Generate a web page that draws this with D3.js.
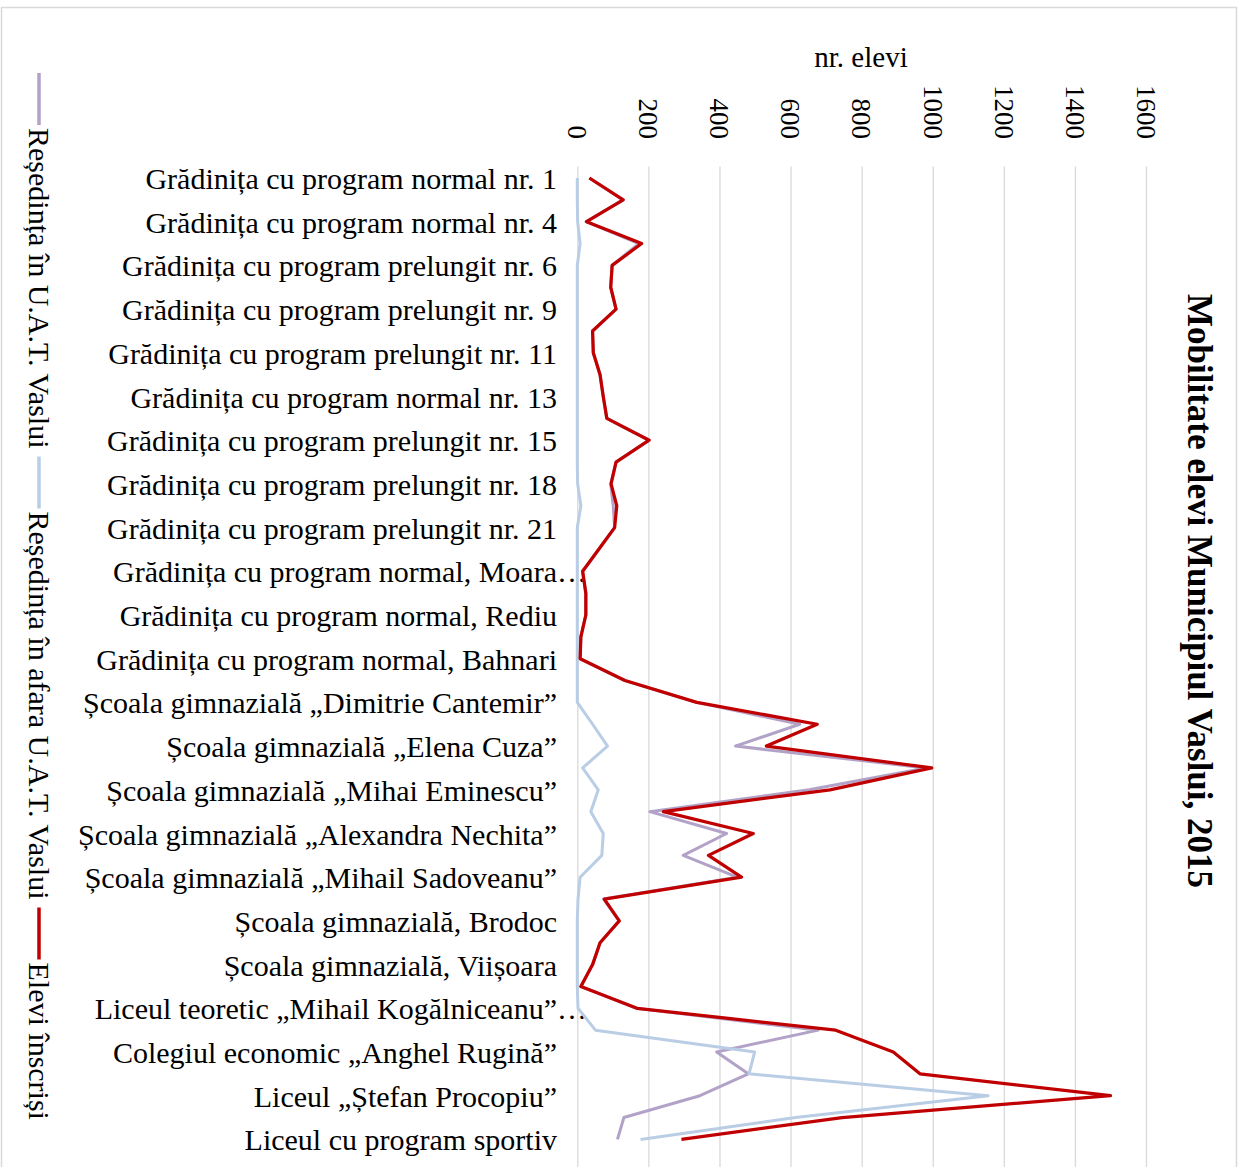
<!DOCTYPE html>
<html>
<head>
<meta charset="utf-8">
<script src="https://cdn.jsdelivr.net/npm/d3@7"></script>
<style>
  body { margin: 0; background: #fff; }
  svg { display: block; font-family: "Liberation Serif", "Times New Roman", serif; }
</style>
</head>
<body>
<div id="chart"></div>
<script>
// categories (only every second one is labelled on the axis, as in the original)
const categories = [
  "Grădinița cu program normal nr. 1",
  "Grădinița cu program normal nr. 2",
  "Grădinița cu program normal nr. 4",
  "Grădinița cu program prelungit nr. 5",
  "Grădinița cu program prelungit nr. 6",
  "Grădinița cu program prelungit nr. 8",
  "Grădinița cu program prelungit nr. 9",
  "Grădinița cu program prelungit nr. 10",
  "Grădinița cu program prelungit nr. 11",
  "Grădinița cu program normal nr. 12",
  "Grădinița cu program normal nr. 13",
  "Grădinița cu program prelungit nr. 14",
  "Grădinița cu program prelungit nr. 15",
  "Grădinița cu program prelungit nr. 17",
  "Grădinița cu program prelungit nr. 18",
  "Grădinița cu program prelungit nr. 20",
  "Grădinița cu program prelungit nr. 21",
  "Grădinița cu program normal nr. 22",
  "Grădinița cu program normal, Moara…",
  "Grădinița cu program normal, Brodoc",
  "Grădinița cu program normal, Rediu",
  "Grădinița cu program normal, Viișoara",
  "Grădinița cu program normal, Bahnari",
  "Școala gimnazială „Constantin Parfene”",
  "Școala gimnazială „Dimitrie Cantemir”",
  "Școala gimnazială „Ștefan cel Mare”",
  "Școala gimnazială „Elena Cuza”",
  "Școala gimnazială „George Tutoveanu”",
  "Școala gimnazială „Mihai Eminescu”",
  "Școala gimnazială „Vasile Alecsandri”",
  "Școala gimnazială „Alexandra Nechita”",
  "Școala gimnazială „Ion Creangă”",
  "Școala gimnazială „Mihail Sadoveanu”",
  "Școala gimnazială, Moara Grecilor",
  "Școala gimnazială, Brodoc",
  "Școala gimnazială, Rediu",
  "Școala gimnazială, Viișoara",
  "Școala gimnazială, Bahnari",
  "Liceul teoretic „Mihail Kogălniceanu”…",
  "Colegiul național „Cuza Vodă”",
  "Colegiul economic „Anghel Rugină”",
  "Liceul tehnologic „Ion Mincu”",
  "Liceul „Ștefan Procopiu”",
  "Liceul tehnologic nr. 1",
  "Liceul cu program sportiv"
];

const tickValues = [0, 200, 400, 600, 800, 1000, 1200, 1400, 1600];

const inUAT = [34, 129, 25, 173, 98, 94, 109, 43, 45, 64, 73, 83, 202, 109, 94, 101, 105, 60, 15, 24, 24, 10, 8,
  134, 336, 626, 445, 982, 652, 204, 420, 298, 450, 74, 118, 64, 43, 10, 166, 678, 392, 481, 345, 131, 113];
const outsideUAT = [0, 0, 1, 8, 0, 0, 0, 0, 0, 0, 0, 0, 0, 0, 1, 10, 0, 0, 0, 0, 0, 0, 0,
  0, 0, 43, 85, 15, 59, 38, 73, 69, 8, 2, 0, 0, 0, 0, 2, 51, 499, 483, 1156, 614, 178];
const enrolled = [34, 129, 26, 181, 98, 94, 109, 43, 45, 64, 73, 83, 202, 109, 95, 111, 105, 60, 15, 24, 24, 10, 8,
  134, 336, 675, 532, 997, 711, 242, 495, 369, 462, 76, 118, 64, 43, 10, 168, 727, 889, 964, 1500, 745, 293];

const seriesNames = ["Reședința în U.A.T. Vaslui", "Reședința în afara U.A.T. Vaslui", "Elevi înscriși"];
const seriesColors = ["#b3a2c7", "#b9cde5", "#c00000"];

const W = 1243, H = 1167;
const plotTop = 166.5, plotBottom = 1167;

const svg = d3.select("#chart").append("svg")
  .attr("width", W)
  .attr("height", H);

// chart border
svg.append("rect")
  .attr("x", 1.5).attr("y", 7.5)
  .attr("width", 1235).attr("height", H)
  .attr("fill", "none")
  .attr("stroke", "#d9d9d9")
  .attr("stroke-width", 1.5);

const x = d3.scaleLinear().domain([0, 1600]).range([577.3, 1146]);
const y = d3.scalePoint().domain(categories).range([178, 1139.4]);

// gridlines
svg.append("g")
  .attr("transform", `translate(0,${plotTop})`)
  .call(d3.axisBottom(x).tickValues(tickValues).tickSize(plotBottom - plotTop).tickFormat(""))
  .call(g => g.select(".domain").remove())
  .call(g => g.selectAll("line").attr("stroke", "#d9d9d9").attr("stroke-width", 1.3));

// value tick labels (rotated)
const tickFs = 27;
svg.append("g")
  .selectAll("text")
  .data(tickValues)
  .join("text")
  .attr("transform", d => `translate(${x(d) - 0.34 * tickFs},139) rotate(90)`)
  .attr("text-anchor", "end")
  .attr("font-size", tickFs)
  .attr("fill", "#000")
  .text(d => d);

// value axis title
svg.append("text")
  .attr("x", 861).attr("y", 67)
  .attr("text-anchor", "middle")
  .attr("font-size", 29)
  .text("nr. elevi");

// category labels
const labelX = 557;
const shown = categories.filter((d, i) => i % 2 === 0);
const lab = svg.append("g")
  .attr("font-size", 30)
  .selectAll("g")
  .data(shown)
  .join("g")
  .attr("transform", d => `translate(${labelX},${y(d) + 11})`);
lab.append("text")
  .attr("text-anchor", "end")
  .text(d => d.replace(/…$/, ""));
lab.filter(d => d.endsWith("…"))
  .append("text")
  .text("…");

// lines
const series = [inUAT, outsideUAT, enrolled];
const line = d3.line()
  .x(d => x(d[1]))
  .y(d => y(d[0]));

svg.append("g")
  .selectAll("path")
  .data(series)
  .join("path")
  .attr("d", vals => line(vals.map((v, i) => [categories[i], v])))
  .attr("fill", "none")
  .attr("stroke", (d, i) => seriesColors[i])
  .attr("stroke-width", (d, i) => i === 2 ? 3.25 : 3)
  .attr("stroke-linejoin", "round");

// title
svg.append("text")
  .attr("transform", "translate(1188,591) rotate(90)")
  .attr("text-anchor", "middle")
  .attr("font-size", 35)
  .attr("font-weight", "bold")
  .text("Mobilitate elevi Municipiul Vaslui, 2015");

// legend (vertical, reading top to bottom)
const legend = svg.append("g");
let pos = 73;
seriesNames.forEach((name, i) => {
  legend.append("line")
    .attr("x1", 39).attr("x2", 39)
    .attr("y1", pos).attr("y2", pos + 52)
    .attr("stroke", seriesColors[i])
    .attr("stroke-width", 3.5);
  const t = legend.append("text")
    .attr("transform", `translate(29,${pos + 55}) rotate(90)`)
    .attr("font-size", 30)
    .text(name);
  pos += 55 + t.node().getComputedTextLength() + 8;
});
</script>
</body>
</html>
